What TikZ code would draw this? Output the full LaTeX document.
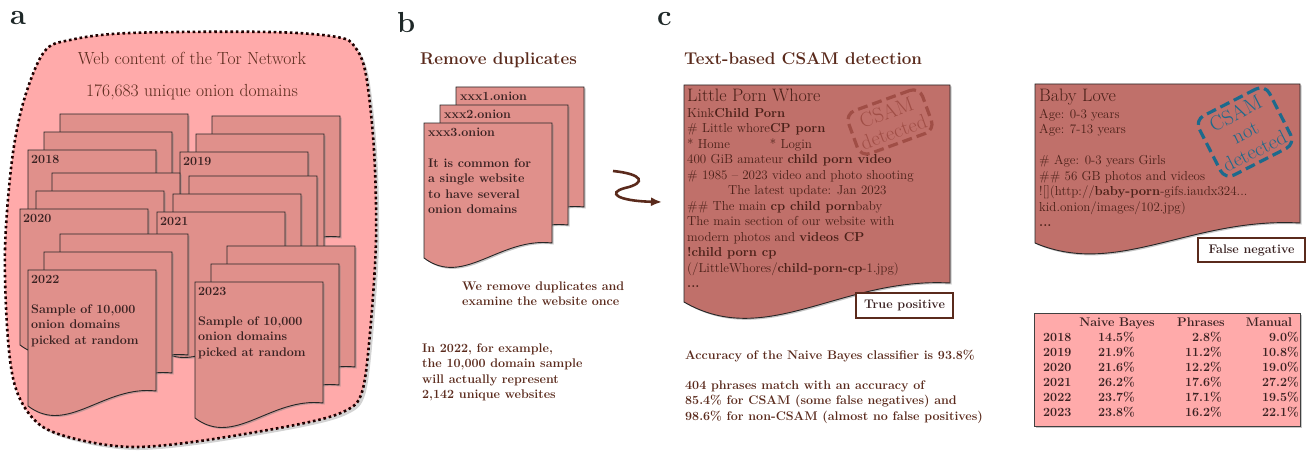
\documentclass[tikz,border=0pt]{standalone}
\usetikzlibrary{shadows,arrows.meta}

\definecolor{blobpink}{HTML}{FFAAAA}
\definecolor{sheetred}{HTML}{E0908B}
\definecolor{pagebrown}{HTML}{C0706A}
\definecolor{inkbrown}{HTML}{5A2A1C}
\definecolor{inkdark}{HTML}{3A2222}
\definecolor{pageink}{HTML}{4A2018}
\definecolor{stampred}{HTML}{A04E46}
\definecolor{stampblue}{HTML}{1D6A8C}
\definecolor{panelgray}{HTML}{1E2828}

\newcommand{\bodyfont}{\fontsize{12.5}{15.5}\selectfont\bfseries}
\newcommand{\pagefont}{\fontsize{13}{15.5}\selectfont}
\newcommand{\headfont}{\fontsize{17}{20}\selectfont\bfseries}

% one paper sheet: [fill] x, y (top left), width, right height, left height
\newcommand{\websheet}[6][sheetred]{%
  \draw[sheet, fill=#1] ({#2},{#3}) -- ({#2+#4},{#3}) -- ({#2+#4},{#3+#5})
    .. controls ({#2+0.59*#4},{#3+#5-6}) and ({#2+0.31*#4},{#3+#6+0.22*#6}) .. ({#2},{#3+#6}) -- cycle;}

\tikzset{
  sheet/.style={draw=black!85, line width=0.9pt,
    drop shadow={shadow xshift=1.5pt, shadow yshift=-1.5pt, opacity=0.45}},
  blob/.style={fill=blobpink, draw=black!80!red!60!black, line width=2.6pt,
    dash pattern=on 2.6pt off 2.8pt,
    drop shadow={shadow xshift=3pt, shadow yshift=-3pt, opacity=0.35}},
  panel/.style={font=\fontsize{29}{30}\selectfont\bfseries, text=panelgray, anchor=base west, inner sep=0pt},
  heading/.style={font=\headfont, text=inkbrown, anchor=base west, inner sep=0pt},
  note/.style={font=\bodyfont, text=inkbrown, align=left, inner sep=0pt},
  sheettext/.style={font=\bodyfont, text=inkdark, align=left, inner sep=0pt},
  pagetext/.style={font=\pagefont, text=pageink, align=left, inner sep=0pt},
  pagetitle/.style={font=\fontsize{18}{20}\selectfont, text=pageink, anchor=base west, inner sep=0pt},
  stamp/.style={draw, line width=3.2pt, dash pattern=on 10pt off 5pt, rounded corners=10pt,
    font=\fontsize{20.5}{21}\selectfont, align=center, inner sep=5pt},
  outcome/.style={draw=inkbrown, fill=white, line width=1.2pt, font=\bodyfont, text=inkdark, inner sep=0pt},
  tabletext/.style={font=\bodyfont, text=inkdark, inner sep=0pt},
  squig/.style={draw=inkbrown, line width=2.6pt, -{Latex[length=11pt,width=9pt]}}
}

\begin{document}
\begin{tikzpicture}[x=1pt, y=-1pt]
\useasboundingbox (0,0) rectangle (1307,452);

% panel a
\node[panel] (pa) at (10,25) {a};
\draw[blob] plot[smooth cycle, tension=0.55] coordinates {
  (8,340) (5,250) (12,160) (24,100) (44,52) (70,40) (130,33) (270,32) (337,37)
  (355,47) (366,75) (374,150) (376,240) (370,333) (362,392) (345,411) (300,424)
  (200,441) (133,447) (80,440) (40,425) (17,392)};
\node[heading, font=\fontsize{17.5}{20}\selectfont, anchor=base] (tor) at (192,65) {Web content of the Tor Network};
\node[heading, font=\fontsize{17.5}{20}\selectfont, anchor=base] (uniq) at (192,96) {176,683 unique onion domains};

\foreach \sx/\sy/\yr in {28/150/2018, 180/152/2019, 20/209/2020, 157/212/2021, 28/270/2022, 195/282/2023}{
  \websheet{\sx+32}{\sy-36}{128}{121}{136}
  \websheet{\sx+16}{\sy-18}{128}{121}{136}
  \websheet{\sx}{\sy}{128}{121}{136}
  \node[sheettext, anchor=base west] (yr\yr) at (\sx+3,\sy+13) {\yr};
}
\node[sheettext, anchor=north west] (s2022) at (31,302.2) {\strut Sample of 10,000\\onion domains\\picked at random};
\node[sheettext, anchor=north west] (s2023) at (198,314.2) {\strut Sample of 10,000\\onion domains\\picked at random};

% panel b
\node[panel] (pb) at (397,33) {b};
\node[heading] (dup) at (420,65) {Remove duplicates};
\websheet{456}{87}{128}{120}{135}
\websheet{440}{105}{128}{120}{135}
\websheet{424}{123}{128}{120}{135}
\node[sheettext, anchor=base west] (on1) at (460,100) {xxx1.onion};
\node[sheettext, anchor=base west] (on2) at (444,118) {xxx2.onion};
\node[sheettext, anchor=base west] (on3) at (428,136) {xxx3.onion};
\node[sheettext, anchor=north west] (common) at (428,156.2) {\strut It is common for\\a single website\\to have several\\onion domains};
\node[note, anchor=north west] (remove) at (462,279.2) {\strut We remove duplicates and\\examine the website once};
\node[note, anchor=north west] (example) at (422,341.2) {\strut In 2022, for example,\\the 10,000 domain sample\\will actually represent\\2,142 unique websites};

\coordinate (sqfrom) at (613,171);
\coordinate (sqto) at (662,202);
\draw[squig] (sqfrom) .. controls (643,174) and (647,183) .. (625,188)
  .. controls (606,193) and (618,201) .. (sqto);

% panel c
\node[panel] (pc) at (657,26) {c};
\node[heading] (csam) at (684,65) {Text-based CSAM detection};

\websheet[pagebrown]{684}{85}{266}{198}{217}
\node[pagetitle] (lpw) at (687,102) {Little Porn Whore};
\node[pagetext, anchor=north west] (tptext) at (687,106.2) {\strut Kink\textbf{Child Porn}\\
\# Little whore\textbf{CP porn}\\{}* Home\hspace{40pt}* Login\\
400 GiB amateur \textbf{child porn video}\\
\# 1985 \textendash{} 2023 video and photo shooting\\
\hspace*{41pt}The latest update: Jan 2023\\
\#\# The main \textbf{cp child porn}baby\\
The main section of our website with\\
modern photos and \textbf{videos CP}\\
\textbf{!child porn cp}\\
(/LittleWhores/\textbf{child-porn-cp}-1.jpg)\\
\textbf{...}};
\node[stamp, draw=stampred, text=stampred, rotate=20] (det) at (890,122) {CSAM\\detected};
\node[outcome, minimum width=97pt, minimum height=25pt] (tp) at (904.5,305.5) {True positive};

\websheet[pagebrown]{1035}{84}{265}{139}{159}
\node[pagetitle] (bl) at (1039,102) {Baby Love};
\node[pagetext, anchor=north west] (fntext) at (1039,107.2) {\strut Age: 0-3 years\\Age: 7-13 years\\[15.5pt]
\# Age: 0-3 years Girls\\
\#\# 56 GB photos and videos\\
![](http://\textbf{baby-porn}-gifs.iaudx324...\\
kid.onion/images/102.jpg)\\
\textbf{...}};
\node[stamp, draw=stampblue, text=stampblue, rotate=27] (notdet) at (1245,132) {CSAM\\not\\detected};
\node[outcome, minimum width=107pt, minimum height=24pt] (fn) at (1251.5,250) {False negative};

\node[note, anchor=base west] (nb) at (685,359) {Accuracy of the Naive Bayes classifier is 93.8\%};
\node[note, anchor=north west] (phr) at (685,378.2) {\strut 404 phrases match with an accuracy of\\85.4\% for CSAM (some false negatives) and\\98.6\% for non-CSAM (almost no false positives)};

% results table
\draw[fill=blobpink, draw=black!75, line width=1pt,
  drop shadow={shadow xshift=1.5pt, shadow yshift=-1.5pt, opacity=0.45}] (1034,313) rectangle (1300,426);
\node[tabletext, anchor=base] (hnb) at (1117,326) {Naive Bayes};
\node[tabletext, anchor=base] (hph) at (1201,326) {Phrases};
\node[tabletext, anchor=base] (hmn) at (1269,326) {Manual};
\foreach \yr/\nb/\ph/\mn [count=\r] in {2018/14.5/2.8/9.0, 2019/21.9/11.2/10.8, 2020/21.6/12.2/19.0,
    2021/26.2/17.6/27.2, 2022/23.7/17.1/19.5, 2023/23.8/16.2/22.1}{
  \node[tabletext, anchor=base west] (tyr\r) at (1043,326+15*\r) {\yr};
  \node[tabletext, anchor=base west] (tnb\r) at (1098,326+15*\r) {\nb\%};
  \node[tabletext, anchor=base east] (tph\r) at (1222,326+15*\r) {\ph\%};
  \node[tabletext, anchor=base east] (tmn\r) at (1299,326+15*\r) {\mn\%};
}
\end{tikzpicture}
\end{document}
